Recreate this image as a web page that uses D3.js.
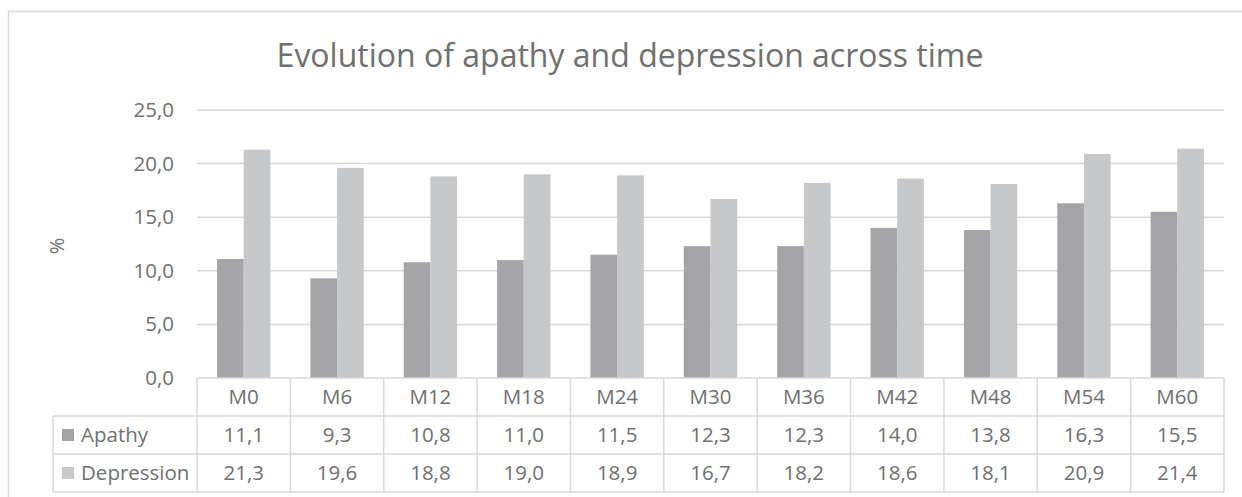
<!DOCTYPE html>
<html>
<head>
<meta charset="utf-8">
<script src="https://cdn.jsdelivr.net/npm/d3@7"></script>
<style>
  html, body { margin: 0; padding: 0; background: #fff; }
  svg { display: block; font-family: "Open Sans", sans-serif; }
</style>
</head>
<body>
<svg id="chart" width="1242" height="497"></svg>
<script>
const categories = ["M0","M6","M12","M18","M24","M30","M36","M42","M48","M54","M60"];
const seriesNames = ["Apathy","Depression"];
const apathy = [11.1, 9.3, 10.8, 11.0, 11.5, 12.3, 12.3, 14.0, 13.8, 16.3, 15.5];
const depression = [21.3, 19.6, 18.8, 19.0, 18.9, 16.7, 18.2, 18.6, 18.1, 20.9, 21.4];
const yTicks = [0, 5, 10, 15, 20, 25];
const title = "Evolution of apathy and depression across time";
const yLabel = "%";

const colors = {Apathy: "#a5a5a8", Depression: "#c7c8ca"};
const textColor = "#707070";
const lineColor = "#d9d9d9";
const fmt = v => d3.format(".1f")(v).replace(".", ",");
const fs = 20.5;

const svg = d3.select("#chart");
const plotL = 197, plotR = 1224, plotT = 110, plotB = 378;
const rowH = 38;
const tableL = 53;

// outer frame
svg.append("rect").attr("x", 8.5).attr("y", 11.5).attr("width", 1260).attr("height", 520)
  .attr("fill", "none").attr("stroke", lineColor).attr("stroke-width", 1.5);

// title
svg.append("text").attr("x", (275 + 985) / 2).attr("y", 67)
  .attr("text-anchor", "middle").attr("font-size", 32).attr("fill", textColor)
  .text(title);

const x0 = d3.scaleBand().domain(categories).range([plotL, plotR]).padding(0);
const x1 = d3.scaleBand().domain(seriesNames).range([0, x0.bandwidth()]).paddingInner(0).paddingOuter(0.75);
const y = d3.scaleLinear().domain([0, 25]).range([plotB, plotT]);

// gridlines
svg.append("g").selectAll("line").data(yTicks.filter(t => t > 0)).join("line")
  .attr("x1", plotL).attr("x2", plotR)
  .attr("y1", d => y(d)).attr("y2", d => y(d))
  .attr("stroke", lineColor).attr("stroke-width", 1.5);

// y axis tick labels
const yAxis = d3.axisLeft(y).tickValues(yTicks).tickFormat(fmt).tickSize(0).tickPadding(23);
const gy = svg.append("g").attr("transform", `translate(${plotL},0)`).call(yAxis);
gy.select(".domain").remove();
gy.selectAll("text").attr("font-size", fs).attr("fill", textColor)
  .attr("font-family", "Open Sans, sans-serif");

// y label
svg.append("text").attr("transform", `translate(64,246) rotate(-90)`)
  .attr("text-anchor", "middle").attr("font-size", 20).attr("fill", textColor).text(yLabel);

// bars
const data = categories.map((c, i) => ({cat: c, values: [
  {key: "Apathy", v: apathy[i]}, {key: "Depression", v: depression[i]}]}));
svg.append("g").selectAll("g").data(data).join("g")
  .attr("transform", d => `translate(${x0(d.cat)},0)`)
  .selectAll("rect").data(d => d.values).join("rect")
  .attr("x", d => x1(d.key)).attr("width", x1.bandwidth())
  .attr("y", d => y(d.v)).attr("height", d => y(0) - y(d.v))
  .attr("fill", d => colors[d.key]);

// data table
const tg = svg.append("g");
const rows = [apathy, depression];
tg.append("line").attr("x1", plotL).attr("x2", plotR).attr("y1", plotB).attr("y2", plotB)
  .attr("stroke", lineColor).attr("stroke-width", 1.5);
[1, 2, 3].forEach(r => {
  tg.append("line").attr("x1", tableL).attr("x2", plotR)
    .attr("y1", plotB + r * rowH).attr("y2", plotB + r * rowH)
    .attr("stroke", lineColor).attr("stroke-width", 1.5);
});
tg.append("line").attr("x1", tableL).attr("x2", tableL)
  .attr("y1", plotB + rowH).attr("y2", plotB + 3 * rowH)
  .attr("stroke", lineColor).attr("stroke-width", 1.5);
categories.concat(["_end"]).forEach((c, i) => {
  const xx = i < categories.length ? x0(c) : plotR;
  tg.append("line").attr("x1", xx).attr("x2", xx)
    .attr("y1", plotB).attr("y2", plotB + 3 * rowH)
    .attr("stroke", lineColor).attr("stroke-width", 1.5);
});
tg.selectAll("text.hdr").data(categories).join("text").attr("class", "hdr")
  .attr("x", d => x0(d) + x0.bandwidth() / 2).attr("y", plotB + rowH / 2)
  .attr("dy", "0.35em").attr("text-anchor", "middle")
  .attr("font-size", fs).attr("fill", textColor).text(d => d);
rows.forEach((vals, r) => {
  const cy = plotB + (r + 1) * rowH + rowH / 2;
  tg.selectAll(`text.r${r}`).data(vals).join("text").attr("class", `r${r}`)
    .attr("x", (d, i) => x0(categories[i]) + x0.bandwidth() / 2).attr("y", cy)
    .attr("dy", "0.35em").attr("text-anchor", "middle")
    .attr("font-size", fs).attr("fill", textColor).text(d => fmt(d));
  tg.append("rect").attr("x", 62).attr("y", cy - 6).attr("width", 12).attr("height", 12)
    .attr("fill", colors[seriesNames[r]]);
  tg.append("text").attr("x", 81).attr("y", cy).attr("dy", "0.35em")
    .attr("font-size", fs).attr("fill", textColor).text(seriesNames[r]);
});
</script>
</body>
</html>
